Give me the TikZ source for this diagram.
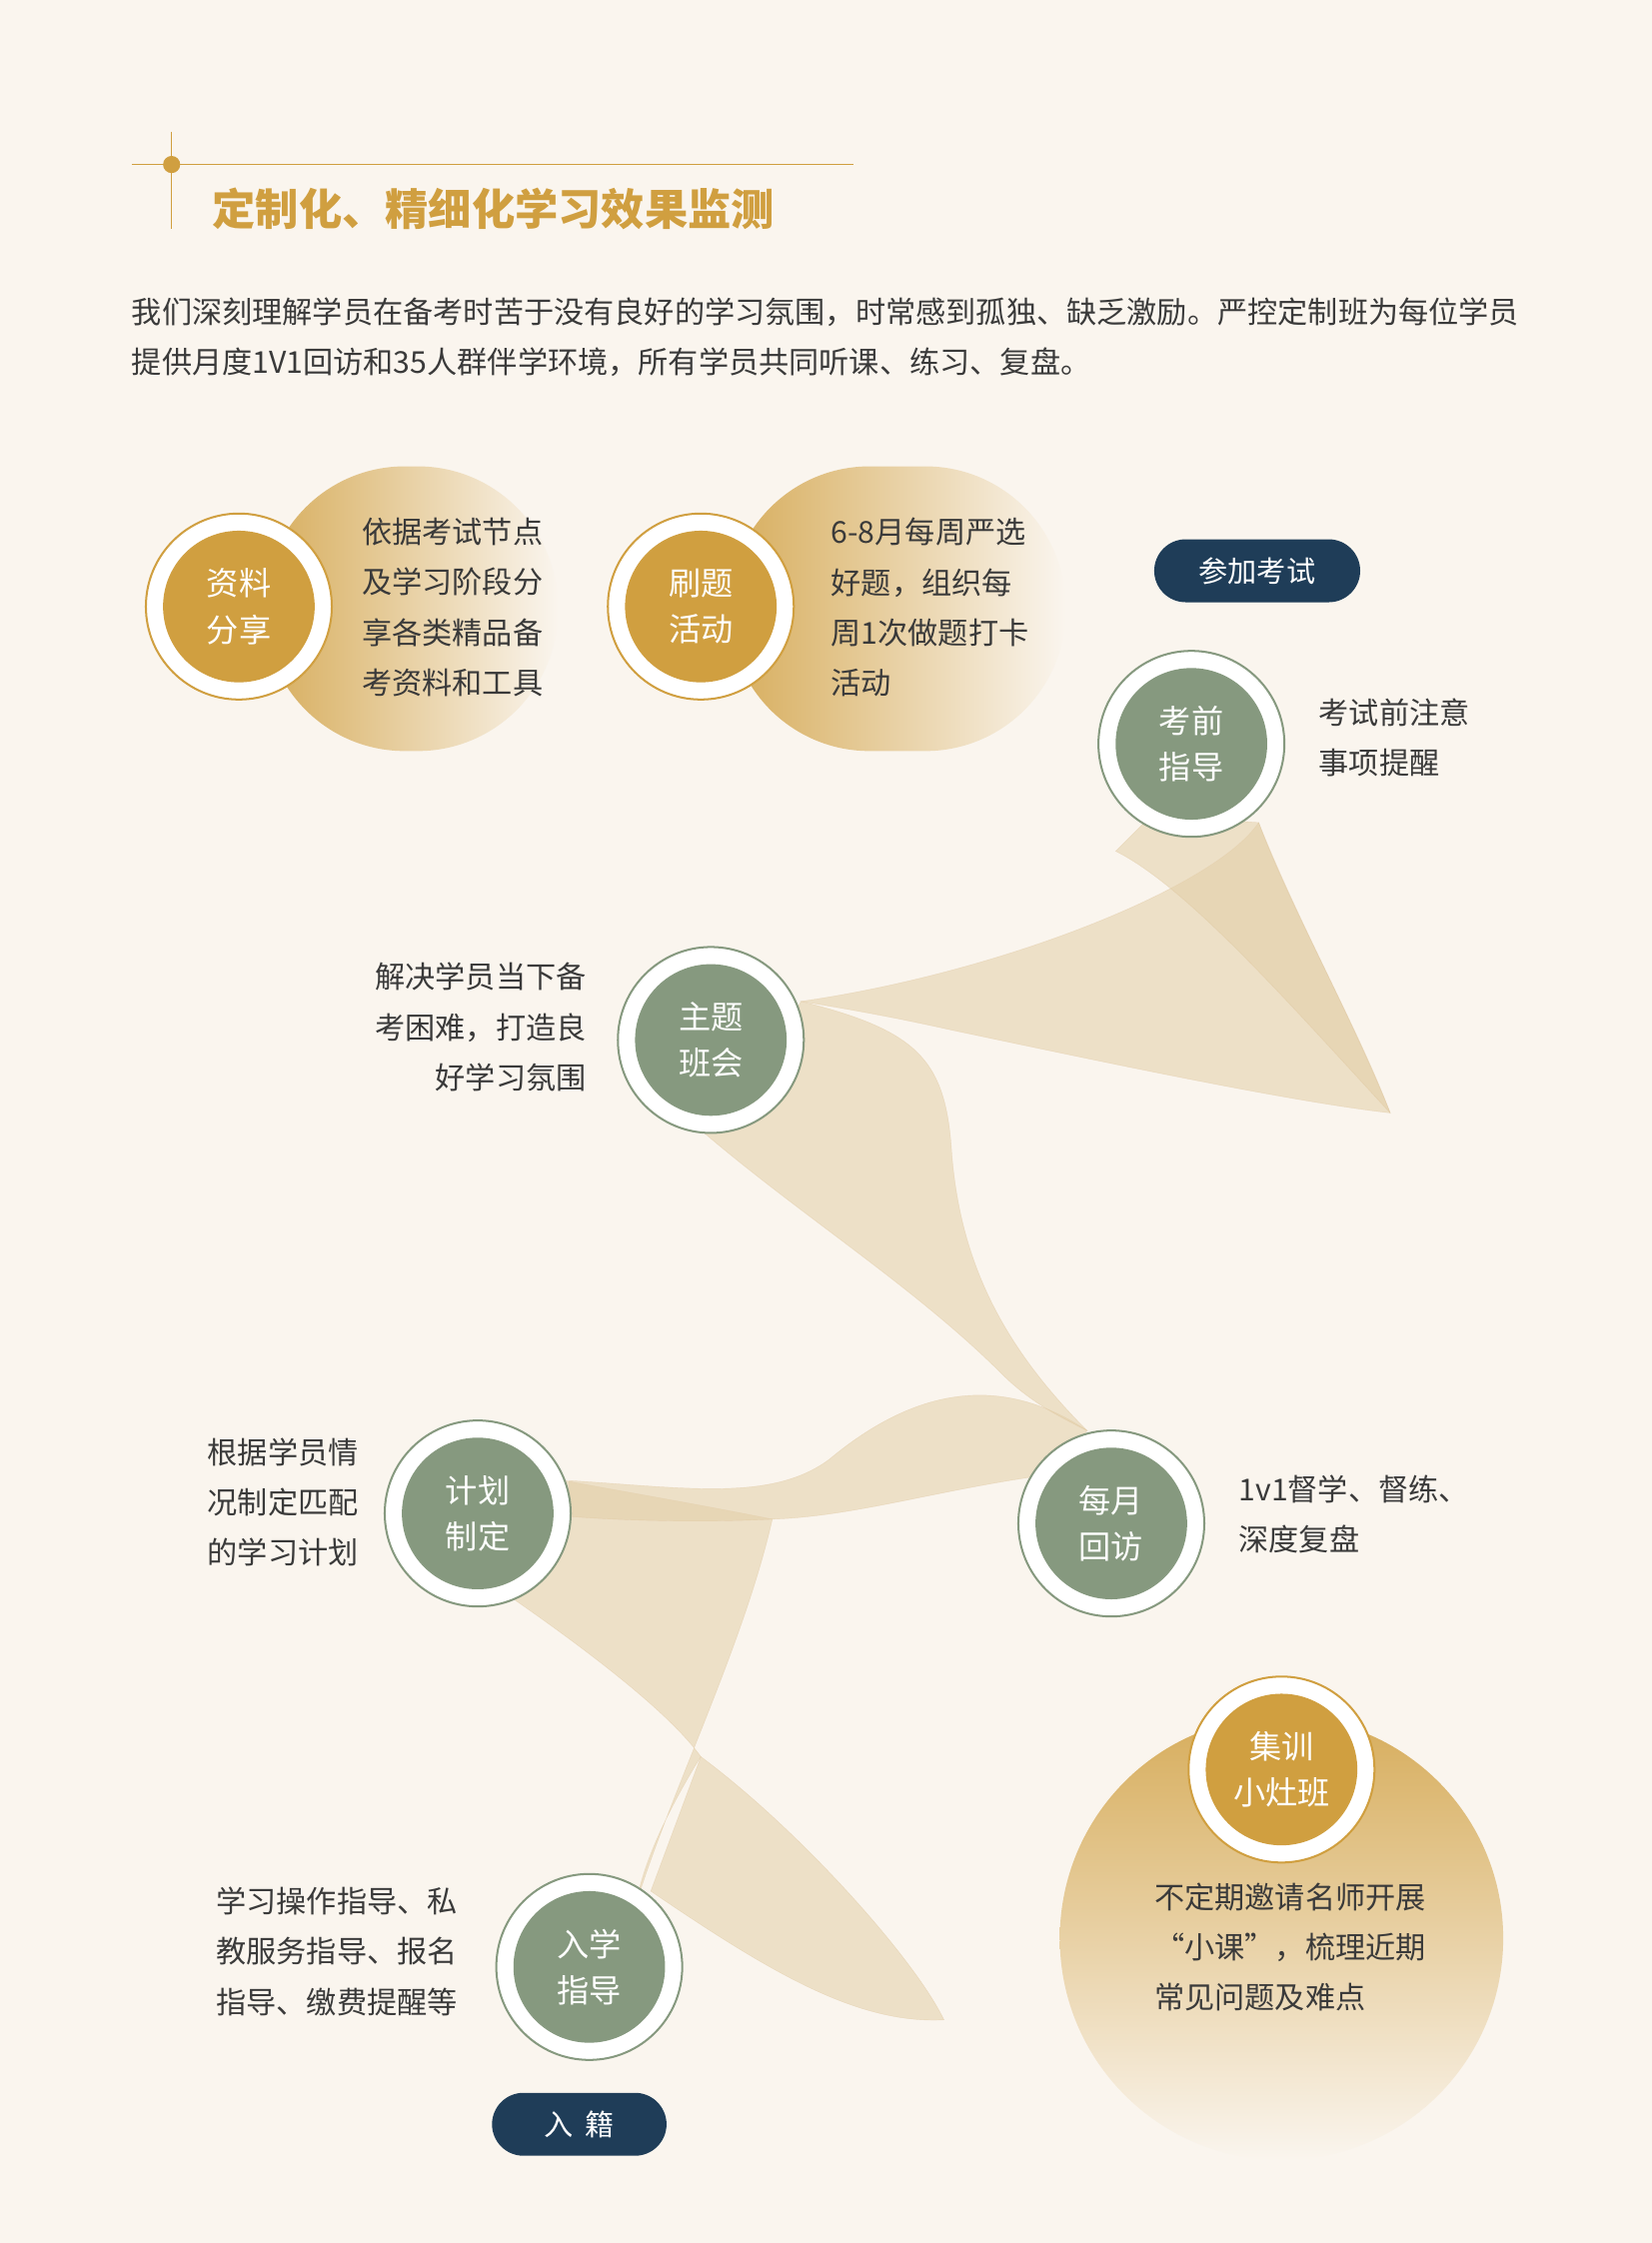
\documentclass[tikz,border=0pt]{standalone}
\usepackage{fontspec}
\setmainfont{Noto Sans CJK SC}
\definecolor{bg}{HTML}{FAF5EE}
\definecolor{gold}{HTML}{D09F40}
\definecolor{sage}{HTML}{86997F}
\definecolor{navy}{HTML}{1F3D58}
\definecolor{txt}{HTML}{3A3A3A}
\definecolor{rib}{HTML}{E3CFA8}
\tikzset{
 body/.style={font=\fontsize{30}{50}\selectfont, text=txt, align=left, inner sep=0},
 ctext/.style={font=\fontsize{32}{46}\selectfont, text=white, align=center},
 gcirc/.style={circle, draw=gold, line width=2pt, fill=white, minimum size=65mm, inner sep=0},
 scirc/.style={circle, draw=sage, line width=2pt, fill=white, minimum size=65mm, inner sep=0},
 pill/.style={rounded corners=11mm, fill=navy, text=white, font=\fontsize{29}{30}\selectfont, minimum height=22mm},
 band/.style={fill=rib, fill opacity=0.55, draw=rib!80!brown, draw opacity=0.4, line width=0.4pt}
}
\begin{document}
\begin{tikzpicture}[x=0.5mm,y=-0.5mm]
\fill[bg] (0,0) rectangle (1155,1568);
\useasboundingbox (0,0) rectangle (1155,1568);
% title
\draw[gold, line width=1.2pt] (92,115) -- (597,115);
\draw[gold, line width=1.2pt] (120,92) -- (120,160);
\fill[gold] (120,115) circle (6);
\node[anchor=west, text=gold, font=\bfseries\fontsize{43}{46}\selectfont] (title) at (146,146) {定制化、精细化学习效果监测};
\node[body, anchor=north west] (intro) at (92,208) {我们深刻理解学员在备考时苦于没有良好的学习氛围，时常感到孤独、缺乏激励。严控定制班为每位学员\\提供月度1V1回访和35人群伴学环境，所有学员共同听课、练习、复盘。};
% blobs
\path[left color=gold!85, right color=bg, rounded corners=49mm] (185,326) rectangle (390,525);
\path[left color=gold!85, right color=bg, rounded corners=49mm] (510,326) rectangle (745,525);
\path[top color=gold!85, bottom color=bg] (896,1355) circle (155);
% ribbon
\path[band] (455,1322) .. controls (540,1380) and (600,1415) .. (660,1412) .. controls (640,1370) and (560,1280) .. (490,1228) -- cycle;
\path[band] (355,1115) .. controls (420,1160) and (470,1200) .. (490,1228) .. controls (470,1260) and (450,1300) .. (445,1330) .. controls (470,1250) and (520,1150) .. (540,1062) .. controls (480,1050) and (420,1040) .. (395,1035) -- cycle;
\path[band] (398,1035) .. controls (480,1040) and (540,1050) .. (580,1020) .. controls (640,970) and (700,960) .. (760,1000) -- (740,1030) .. controls (660,1040) and (600,1060) .. (540,1062) .. controls (480,1065) and (420,1062) .. (398,1060) -- cycle;
\path[band] (490,790) .. controls (560,850) and (640,900) .. (700,960) .. controls (720,980) and (740,990) .. (760,1000) .. controls (700,940) and (670,880) .. (665,800) .. controls (660,740) and (640,720) .. (560,700) .. controls (540,740) and (520,770) .. (490,790) -- cycle;
\path[band] (560,700) .. controls (700,680) and (850,620) .. (880,575) .. controls (910,650) and (950,720) .. (972,778) .. controls (900,770) and (760,740) .. (665,720) .. controls (620,710) and (590,705) .. (560,700) -- cycle;
\path[band] (780,595) .. controls (830,620) and (900,700) .. (972,778) .. controls (940,700) and (900,630) .. (880,575) -- (805,570) -- cycle;
% circles
\node[gcirc] (c1) at (167,424) {}; \fill[gold] (c1) circle (53); \node[ctext] at (c1) {资料\\分享};
\node[gcirc] (c2) at (490,424) {}; \fill[gold] (c2) circle (53); \node[ctext] at (c2) {刷题\\活动};
\node[scirc] (c3) at (833,520) {}; \fill[sage] (c3) circle (53); \node[ctext] at (c3) {考前\\指导};
\node[scirc] (c4) at (497,727) {}; \fill[sage] (c4) circle (53); \node[ctext] at (c4) {主题\\班会};
\node[scirc] (c5) at (334,1058) {}; \fill[sage] (c5) circle (53); \node[ctext] at (c5) {计划\\制定};
\node[scirc] (c6) at (777,1065) {}; \fill[sage] (c6) circle (53); \node[ctext] at (c6) {每月\\回访};
\node[gcirc] (c7) at (896,1237) {}; \fill[gold] (c7) circle (53); \node[ctext] at (c7) {集训\\小灶班};
\node[scirc] (c8) at (412,1375) {}; \fill[sage] (c8) circle (53); \node[ctext] at (c8) {入学\\指导};
% texts
\node[body, anchor=north west] (t1) at (253,362) {依据考试节点\\及学习阶段分\\享各类精品备\\考资料和工具};
\node[body, anchor=north west] (t2) at (581,362) {6-8月每周严选\\好题，组织每\\周1次做题打卡\\活动};
\node[body, anchor=north west] (t3) at (922,488) {考试前注意\\事项提醒};
\node[body, anchor=north east, align=right] (t4) at (410,673) {解决学员当下备\\考困难，打造良\\好学习氛围};
\node[body, anchor=north west] (t5) at (145,1005) {根据学员情\\况制定匹配\\的学习计划};
\node[body, anchor=north west] (t6) at (866,1031) {1v1督学、督练、\\深度复盘};
\node[body, anchor=north west] (t7) at (807,1316) {不定期邀请名师开展\\“小课”，梳理近期\\常见问题及难点};
\node[body, anchor=north west] (t8) at (151,1319) {学习操作指导、私\\教服务指导、报名\\指导、缴费提醒等};
% pills
\node[pill, minimum width=72mm] (p1) at (879,399) {参加考试};
\node[pill, minimum width=61mm] (p2) at (405,1485) {入\hspace{12pt}籍};
\end{tikzpicture}
\end{document}
